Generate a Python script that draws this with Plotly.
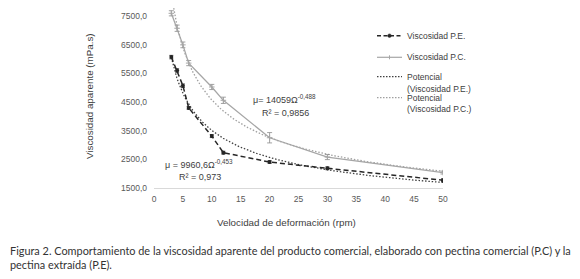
import numpy as np
import plotly.graph_objects as go

# ---- data ----
rpm = [3, 4, 5, 6, 10, 12, 20, 30, 50]
visc_pe = [6066, 5600, 5070, 4295, 3310, 2733, 2406, 2187, 1771]
err_pe = [60, 60, 60, 50, 50, 50, 50, 50, 50]
visc_pc = [7594, 7073, 6493, 5857, 5024, 4559, 3253, 2580, 2038]
err_pc = [90, 110, 100, 90, 90, 110, 180, 90, 50]

# power trendlines shown on the chart: mu = a * rpm^b
fit_pe = [9960.6, -0.453]
fit_pc = [14059.0, -0.488]
r2_pe = "0,973"
r2_pc = "0,9856"

x_ticks = [0, 5, 10, 15, 20, 25, 30, 35, 40, 45, 50]
y_ticks = [1500, 2500, 3500, 4500, 5500, 6500, 7500]
y_tick_labels = ["1500,0", "2500,0", "3500,0", "4500,0", "5500,0", "6500,0", "7500,0"]

legend_names = ["Viscosidad P.E.", "Viscosidad P.C.",
                "Potencial<br>(Viscosidad P.E.)", "Potencial<br>(Viscosidad P.C.)"]

x_title = "Velocidad de deformación (rpm)"
y_title = "Viscosidad aparente (mPa.s)"
caption = ("Figura 2. Comportamiento de la viscosidad aparente del producto comercial, elaborado con pectina comercial (P.C) y la"
           "<br>pectina extraída (P.E).")

# page has an 8px body margin, so the figure is 572x271 and shifted
OFF = 8
W, H = 580 - OFF, 279 - OFF
L, R, T, B = 154 - OFF, 443 - OFF, 0, 188 - OFF   # plot area in figure pixels


def px(x):
    """reference pixel x -> paper"""
    return (x - OFF - L) / (R - L)


def py(y):
    """reference pixel y -> paper"""
    return (B - (y - OFF)) / (B - T)


y_top = 7500 + (16 - OFF) / (172 / 6000)   # keep reference scale

xs = np.linspace(rpm[0], rpm[-1], 200)
trend_pe = fit_pe[0] * xs ** fit_pe[1]
trend_pc = fit_pc[0] * xs ** fit_pc[1]

PE_COL = "#262626"
PC_COL = "#a6a6a6"
TXT = "#404040"
FONT = "Liberation Sans, Arial, sans-serif"

fig = go.Figure()
fig.add_trace(go.Scatter(
    x=xs, y=trend_pe, name=legend_names[2], mode="lines",
    line=dict(color="#404040", width=1.3, dash="1.5px,1.8px"),
))
fig.add_trace(go.Scatter(
    x=xs, y=trend_pc, name=legend_names[3], mode="lines",
    line=dict(color="#a0a0a0", width=1.3, dash="1.5px,1.8px"),
))
fig.add_trace(go.Scatter(
    x=rpm, y=visc_pe, name=legend_names[0], mode="lines+markers",
    line=dict(color=PE_COL, width=1.5, dash="5px,3px"),
    marker=dict(symbol="circle", size=4, color=PE_COL),
    error_y=dict(type="data", array=err_pe, color=PE_COL, thickness=0.8, width=2),
))
fig.add_trace(go.Scatter(
    x=rpm, y=visc_pc, name=legend_names[1], mode="lines+markers",
    line=dict(color=PC_COL, width=1.3),
    marker=dict(symbol="cross-thin", size=4, color=PC_COL, line=dict(color=PC_COL, width=1)),
    error_y=dict(type="data", array=err_pc, color="#8c8c8c", thickness=0.8, width=2.5),
))

axis_font = dict(family=FONT, size=8.5, color="#595959")

shapes = []
annotations = []

# ---- manual legend ----
leg_x0, leg_x1, leg_tx = 377, 402, 405
leg_rows = [
    (35.7, [35.7], legend_names[0], dict(color=PE_COL, width=1.5, dash="4px,2.5px")),
    (57.3, [57.3], legend_names[1], dict(color=PC_COL, width=1.2)),
    (76.7, [76.7, 89.0], legend_names[2], dict(color="#404040", width=1.2, dash="1.5px,1.5px")),
    (97.7, [97.7, 109.3], legend_names[3], dict(color="#a0a0a0", width=1.2, dash="1.5px,1.5px")),
]
for ly, text_ys, name, ln in leg_rows:
    shapes.append(dict(type="line", xref="paper", yref="paper",
                       x0=px(leg_x0), x1=px(leg_x1), y0=py(ly), y1=py(ly), line=ln))
    for i, part in enumerate(name.split("<br>")):
        annotations.append(dict(xref="paper", yref="paper", x=px(leg_tx), y=py(text_ys[i]),
                                xanchor="left", yanchor="middle", showarrow=False, text=part,
                                font=dict(family=FONT, size=8.5, color=TXT)))
# legend markers
mx = (leg_x0 + leg_x1) / 2
shapes.append(dict(type="circle", xref="paper", yref="paper",
                   x0=px(mx - 1.8), x1=px(mx + 1.8), y0=py(35.7 + 1.8), y1=py(35.7 - 1.8),
                   fillcolor=PE_COL, line=dict(color=PE_COL, width=0.5)))
shapes.append(dict(type="line", xref="paper", yref="paper",
                   x0=px(mx), x1=px(mx), y0=py(57.3 + 2), y1=py(57.3 - 2),
                   line=dict(color=PC_COL, width=1)))

ann_font = dict(family=FONT, size=9, color=TXT)
C = dict(xanchor="center", yanchor="middle", showarrow=False, xref="paper", yref="paper")
annotations += [
    dict(x=px(284), y=py(99), text="μ= 14059Ω<sup>-0,488</sup>", font=ann_font, **C),
    dict(x=px(285), y=py(112.7), text="R² = " + r2_pc, font=ann_font, **C),
    dict(x=px(199), y=py(164), text="μ = 9960,6Ω<sup>-0,453</sup>", font=ann_font, **C),
    dict(x=px(200), y=py(176.5), text="R² = " + r2_pe, font=ann_font, **C),
    dict(x=px(286), y=py(222), text=x_title, font=dict(family=FONT, size=9.8, color=TXT), **C),
    dict(x=px(89), y=py(96), textangle=-90, text=y_title,
         font=dict(family=FONT, size=9.8, color=TXT), **C),
    dict(xref="paper", yref="paper", x=px(OFF), y=py(250), xanchor="left", yanchor="middle",
         showarrow=False, align="left", text=caption.split("<br>")[0],
         font=dict(family="Lato, Open Sans, sans-serif", size=10.9, color="#333333")),
    dict(xref="paper", yref="paper", x=px(OFF), y=py(264), xanchor="left", yanchor="middle",
         showarrow=False, align="left", text=caption.split("<br>")[1],
         font=dict(family="Lato, Open Sans, sans-serif", size=10.9, color="#333333")),
]

fig.update_layout(
    width=W, height=H,
    margin=dict(l=L, r=W - R, t=T, b=H - B),
    paper_bgcolor="white", plot_bgcolor="white",
    showlegend=False,
    xaxis=dict(range=[0, 50], tickvals=x_ticks, showgrid=False, zeroline=False,
               showline=True, linecolor="#d9d9d9", linewidth=1, ticks="",
               tickfont=axis_font, ticklabelstandoff=3, fixedrange=True),
    yaxis=dict(range=[1500, y_top], tickvals=y_ticks, ticktext=y_tick_labels,
               showgrid=False, zeroline=False, showline=False, ticks="",
               tickfont=axis_font, ticklabelstandoff=6, fixedrange=True),
    shapes=shapes,
    annotations=annotations,
)

fig.write_html("out.html")
